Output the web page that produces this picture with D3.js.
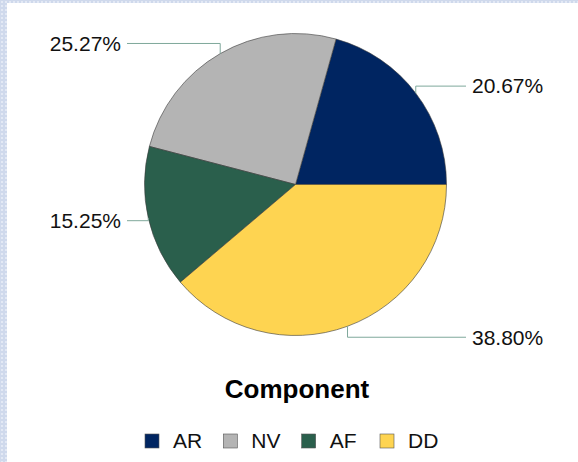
<!DOCTYPE html>
<html>
<head>
<meta charset="utf-8">
<script src="https://cdn.jsdelivr.net/npm/d3@7"></script>
<style>
  html, body { margin: 0; padding: 0; background: #fff; }
  svg { display: block; font-family: "Liberation Sans", Arial, sans-serif; }
</style>
</head>
<body>
<svg id="chart" width="578" height="462"></svg>
<script>
// Data
const categories = ['AR', 'NV', 'AF', 'DD'];
const values     = [20.67, 25.27, 15.25, 38.80];
const colors     = ['#002561', '#b4b4b4', '#2a5f4c', '#fed451'];
const legendTitle = 'Component';

const W = 578, H = 462;
const cx = 295.5, cy = 184.5, R = 151;

const svg = d3.select('#chart');

// ── Background frame (dotted blue strips on left + top) ───────────
const defs = svg.append('defs');
const pat = defs.append('pattern')
  .attr('id', 'dots').attr('width', 4).attr('height', 4)
  .attr('patternUnits', 'userSpaceOnUse');
pat.append('rect').attr('width', 4).attr('height', 4).attr('fill', '#cfd9ec');
pat.append('rect').attr('x', 1).attr('y', 1).attr('width', 2).attr('height', 2).attr('fill', '#e3e9f5');

svg.append('rect').attr('width', W).attr('height', H).attr('fill', 'url(#dots)');
svg.append('rect').attr('x', 7).attr('y', 3).attr('width', W - 7).attr('height', H - 3).attr('fill', '#fff');

// ── Pie ───────────────────────────────────────────────────────────
// slices go counter-clockwise starting at 3 o'clock
const pie = d3.pie().sort(null)
  .startAngle(Math.PI / 2)
  .endAngle(Math.PI / 2 - 2 * Math.PI);
const arcs = pie(values);
const arc = d3.arc().innerRadius(0).outerRadius(R);

const g = svg.append('g').attr('transform', `translate(${cx},${cy})`);

g.selectAll('path.slice')
  .data(arcs)
  .join('path')
    .attr('class', 'slice')
    .attr('d', arc)
    .attr('fill', (d, i) => colors[i])
    .attr('stroke', '#3a3a3a')
    .attr('stroke-width', 0.6);

// ── Leader lines + labels ─────────────────────────────────────────
const fmt = d3.format('.2f');
const outerR = R + 11.7;
const xRight = 466 - cx, xLeft = 127 - cx;

arcs.forEach((d, i) => {
  const a = (d.startAngle + d.endAngle) / 2;   // d3 angle: 0 = 12 o'clock, clockwise
  const sx = Math.sin(a) * R, sy = -Math.cos(a) * R;
  const oy = -Math.cos(a) * outerR;
  const right = Math.sin(a) > 0;
  const ex = right ? xRight : xLeft;

  g.append('path')
    .attr('d', `M${sx},${sy}L${sx},${oy}L${ex},${oy}`)
    .attr('fill', 'none')
    .attr('stroke', '#7fa89b')
    .attr('stroke-width', 1);

  g.append('text')
    .attr('x', right ? ex + 6 : ex - 6)
    .attr('y', oy)
    .attr('dy', '0.35em')
    .attr('text-anchor', right ? 'start' : 'end')
    .attr('font-size', 21)
    .attr('fill', '#111')
    .text(fmt(values[i]) + '%');
});

// ── Legend ────────────────────────────────────────────────────────
svg.append('text')
  .attr('x', 297)
  .attr('y', 398)
  .attr('text-anchor', 'middle')
  .attr('font-size', 26)
  .attr('font-weight', 'bold')
  .attr('fill', '#000')
  .text(legendTitle);

const legendX = d3.scalePoint()
  .domain(categories)
  .range([145, 380]);

const items = svg.selectAll('g.legend-item')
  .data(categories)
  .join('g')
    .attr('class', 'legend-item')
    .attr('transform', d => `translate(${legendX(d)},434)`);

items.append('rect')
  .attr('width', 14).attr('height', 14)
  .attr('fill', (d, i) => colors[i])
  .attr('stroke', '#555')
  .attr('stroke-width', 0.6);

items.append('text')
  .attr('x', 28)
  .attr('y', 7)
  .attr('dy', '0.35em')
  .attr('font-size', 21)
  .attr('fill', '#111')
  .text(d => d);
</script>
</body>
</html>
